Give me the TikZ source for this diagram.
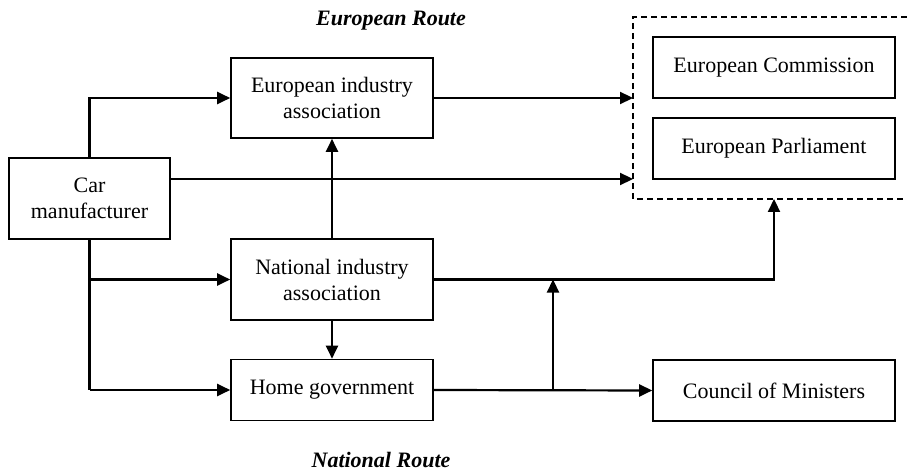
\documentclass[tikz,border=0pt]{standalone}
\usepackage{fontspec}
\setmainfont{Liberation Serif}
\usetikzlibrary{arrows.meta}
\begin{document}
\begin{tikzpicture}[x=1pt,y=-1pt,
  box/.style={draw, line width=1.6pt, align=center, inner sep=0pt,
    font=\fontsize{22}{26}\selectfont},
  wide/.style={box, minimum width=202pt},
  eubox/.style={box, minimum width=242pt, minimum height=61pt},
  flow/.style={line width=2.2pt, -{Triangle[length=13pt,width=12pt]}},
  plain/.style={line width=2.2pt},
  route/.style={anchor=base, inner sep=0pt,
    font=\fontsize{22}{26}\selectfont\bfseries\itshape}]
\useasboundingbox (0,0) rectangle (907,470);

% actors
\node[box, minimum width=161pt, minimum height=81pt] (car) at (89.5,198.5) {Car\\manufacturer};
\node[wide, minimum height=80pt] (eia) at (332,98) {European industry\\association};
\node[wide, minimum height=81pt] (nia) at (332,279.5) {National industry\\association};
\node[wide, minimum height=61pt] (hg) at (332,390) {Home government};
\node[eubox] (ec) at (774,67.5) {European Commission};
\node[eubox] (ep) at (774,148.5) {European Parliament};
\node[eubox] (cm) at (774,390.5) {Council of Ministers};

% route labels
\node[route] (eur) at (391,26) {European Route};
\node[route] (nat) at (381,467) {National Route};

% EU institutions group (open on the right)
\coordinate (dtr) at (907,17);
\coordinate (dtl) at (633,17);
\coordinate (dbl) at (633,199);
\coordinate (dbr) at (907,199);
\draw[line width=1.6pt, dash pattern=on 6pt off 4pt] (dtr) -- (dtl) -- (dbl) -- (dbr);

% European route
\draw[flow] (car.north) |- (eia.west);
\draw[flow] (eia.east) -- (eia.east -| dtl);
\coordinate (carr) at (car.east |- 0,179);
\draw[flow] (carr) -- (carr -| dtl);
\draw[flow] (nia.north) -- (eia.south);
\draw[flow] (nia.east) -| (ep.south |- dbl);

% National route
\draw[plain] (car.south) -- (car.south |- hg.west);
\draw[flow] (car.south |- nia.west) -- (nia.west);
\draw[flow] (car.south |- hg.west) -- (hg.west);
\draw[flow] (nia.south) -- (hg.north);
\draw[flow] (hg.east) -- (cm.west);
\coordinate (jn) at (553,390);
\draw[flow] (jn) -- (jn |- nia.east);
\end{tikzpicture}
\end{document}
